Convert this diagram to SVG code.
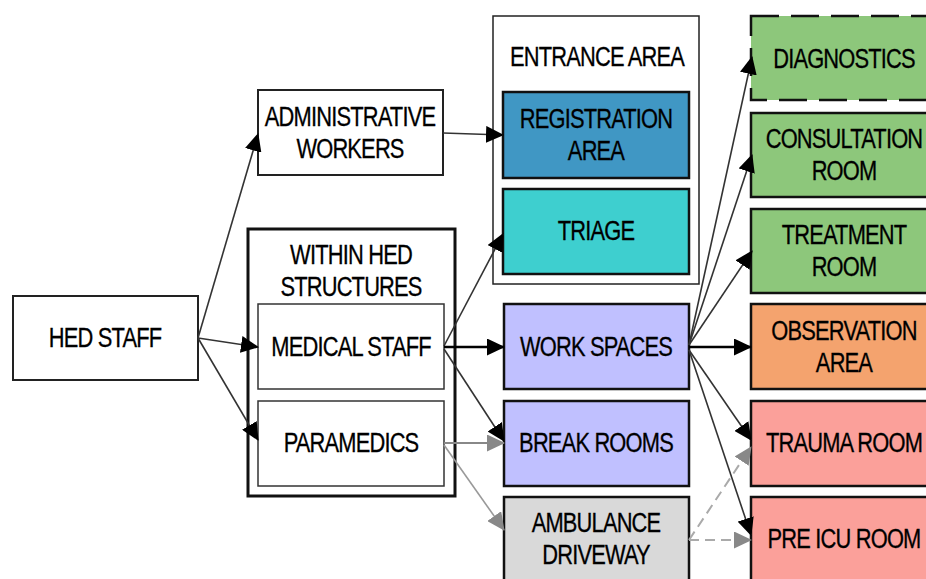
<svg xmlns="http://www.w3.org/2000/svg" width="926" height="579" viewBox="0 0 926 579">
  <style>
    text { font-family: "Liberation Sans", "DejaVu Sans Condensed", sans-serif; font-size: 27px; fill: #000; stroke: #000; stroke-width: 0.3; text-anchor: middle; letter-spacing: -1px; }
    .box { fill: #fff; stroke: #222; stroke-width: 2; }
    .inner { fill: #fff; stroke: #333; stroke-width: 1.5; }
    .group { fill: #fff; stroke: #111; stroke-width: 3; }
    .group2 { fill: #fff; stroke: #222; stroke-width: 1.5; }
    .col { stroke: #111; stroke-width: 2.5; }
    .reg { fill: #4097c4; }
    .tri { fill: #3ecfcf; }
    .work { fill: #c0c0ff; }
    .amb { fill: #d9d9d9; }
    .green { fill: #8dc77b; }
    .orange { fill: #f4a36e; }
    .red { fill: #fba09a; }
    .dash { stroke-dasharray: 28 12; }
    .edge { fill: none; stroke: #333; stroke-width: 1.6; }
    .thick { stroke: #000; stroke-width: 2.6; }
    .grey { stroke: #888; stroke-width: 2; }
    .lgrey { stroke: #999; stroke-width: 1.6; }
    .dgrey { stroke: #aaa; stroke-width: 2; stroke-dasharray: 10 6; }
  </style>
  <defs>
    <marker id="ah" markerUnits="userSpaceOnUse" markerWidth="18" markerHeight="17" refX="17" refY="8.5" orient="auto">
      <path d="M0,0 L18,8.5 L0,17 z" fill="#000"/>
    </marker>
    <marker id="ahg" markerUnits="userSpaceOnUse" markerWidth="18" markerHeight="17" refX="17" refY="8.5" orient="auto">
      <path d="M0,0 L18,8.5 L0,17 z" fill="#888"/>
    </marker>
  </defs>
  <rect width="926" height="579" fill="#fff"/>

  <!-- labels use a condensed face: each text is narrowed horizontally about its anchor -->
  <g id="hed-staff">
    <rect class="box" x="13" y="296" width="185" height="84"/>
    <text transform="translate(105,347) scale(0.81,1)">HED STAFF</text>
  </g>

  <g id="administrative-workers">
    <rect class="box" x="258" y="90" width="185" height="85"/>
    <text transform="translate(350,126) scale(0.81,1)">ADMINISTRATIVE</text>
    <text transform="translate(350,158) scale(0.81,1)">WORKERS</text>
  </g>

  <g id="within-hed">
    <rect class="group" x="248" y="229" width="207" height="267"/>
    <text transform="translate(351,264) scale(0.81,1)">WITHIN HED</text>
    <text transform="translate(351,296) scale(0.81,1)">STRUCTURES</text>
  </g>

  <g id="medical-staff">
    <rect class="inner" x="258" y="304" width="186" height="85"/>
    <text transform="translate(351,356) scale(0.81,1)">MEDICAL STAFF</text>
  </g>

  <g id="paramedics">
    <rect class="inner" x="258" y="401" width="186" height="85"/>
    <text transform="translate(351,452) scale(0.81,1)">PARAMEDICS</text>
  </g>

  <g id="entrance-area">
    <rect class="group2" x="493" y="16" width="206" height="268"/>
    <text transform="translate(597,66) scale(0.81,1)">ENTRANCE AREA</text>
  </g>

  <g id="registration-area">
    <rect class="col reg" x="503" y="92" width="186" height="86"/>
    <text transform="translate(596,128) scale(0.81,1)">REGISTRATION</text>
    <text transform="translate(596,160) scale(0.81,1)">AREA</text>
  </g>

  <g id="triage">
    <rect class="col tri" x="503" y="189" width="186" height="85"/>
    <text transform="translate(596,240) scale(0.81,1)">TRIAGE</text>
  </g>

  <g id="work-spaces">
    <rect class="col work" x="504" y="304" width="185" height="85"/>
    <text transform="translate(596,356) scale(0.81,1)">WORK SPACES</text>
  </g>

  <g id="break-rooms">
    <rect class="col work" x="504" y="401" width="185" height="85"/>
    <text transform="translate(596,452) scale(0.81,1)">BREAK ROOMS</text>
  </g>

  <g id="ambulance-driveway">
    <rect class="col amb" x="504" y="497" width="185" height="90"/>
    <text transform="translate(596,532) scale(0.81,1)">AMBULANCE</text>
    <text transform="translate(596,564) scale(0.81,1)">DRIVEWAY</text>
  </g>

  <g id="diagnostics">
    <rect class="col green dash" x="751" y="16" width="186" height="84"/>
    <text transform="translate(844,68) scale(0.81,1)">DIAGNOSTICS</text>
  </g>

  <g id="consultation-room">
    <rect class="col green" x="751" y="113" width="186" height="84"/>
    <text transform="translate(844,148) scale(0.81,1)">CONSULTATION</text>
    <text transform="translate(844,180) scale(0.81,1)">ROOM</text>
  </g>

  <g id="treatment-room">
    <rect class="col green" x="751" y="209" width="186" height="84"/>
    <text transform="translate(844,244) scale(0.81,1)">TREATMENT</text>
    <text transform="translate(844,276) scale(0.81,1)">ROOM</text>
  </g>

  <g id="observation-area">
    <rect class="col orange" x="751" y="304" width="186" height="85"/>
    <text transform="translate(844,340) scale(0.81,1)">OBSERVATION</text>
    <text transform="translate(844,372) scale(0.81,1)">AREA</text>
  </g>

  <g id="trauma-room">
    <rect class="col red" x="751" y="401" width="186" height="85"/>
    <text transform="translate(844,452) scale(0.81,1)">TRAUMA ROOM</text>
  </g>

  <g id="pre-icu-room">
    <rect class="col red" x="751" y="497" width="186" height="90"/>
    <text transform="translate(844,548) scale(0.81,1)">PRE ICU ROOM</text>
  </g>

  <g id="connectors">
    <path class="edge" d="M198,338 L258,134" marker-end="url(#ah)"/>
    <path class="edge" d="M198,338 L258,347" marker-end="url(#ah)"/>
    <path class="edge" d="M198,338 L258,440" marker-end="url(#ah)"/>
    <path class="edge" d="M443,133 L503,135" marker-end="url(#ah)"/>
    <path class="edge" d="M444,346 L503,234" marker-end="url(#ah)"/>
    <path class="edge thick" d="M444,347 L504,347" marker-end="url(#ah)"/>
    <path class="edge" d="M444,349 L504,441" marker-end="url(#ah)"/>
    <path class="edge grey" d="M444,443 L504,443" marker-end="url(#ahg)"/>
    <path class="edge lgrey" d="M444,445 L504,530" marker-end="url(#ahg)"/>
    <path class="edge" d="M689,345 L752,57" marker-end="url(#ah)"/>
    <path class="edge" d="M689,345 L752,155" marker-end="url(#ah)"/>
    <path class="edge" d="M689,345 L752,251" marker-end="url(#ah)"/>
    <path class="edge thick" d="M689,347 L751,347" marker-end="url(#ah)"/>
    <path class="edge" d="M689,350 L751,440" marker-end="url(#ah)"/>
    <path class="edge" d="M689,350 L751,535" marker-end="url(#ah)"/>
    <path class="dgrey" fill="none" d="M689,540 L751,447" marker-end="url(#ahg)"/>
    <path class="dgrey" fill="none" d="M689,540 L751,540" marker-end="url(#ahg)"/>
  </g>
</svg>
